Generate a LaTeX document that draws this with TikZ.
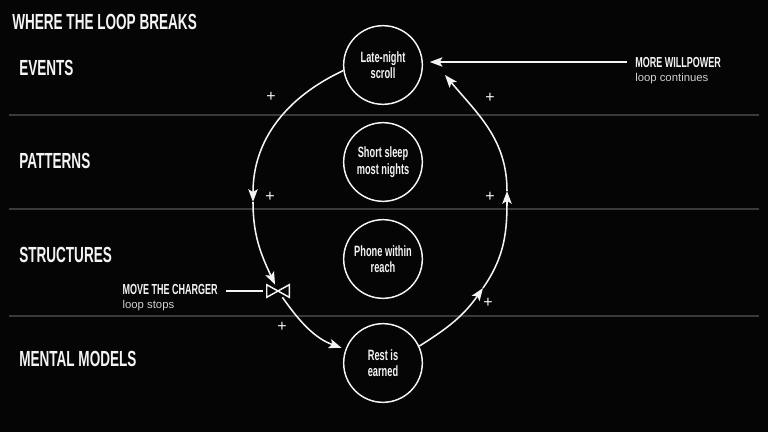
\documentclass[tikz,border=0pt]{standalone}
\usepackage{fontspec}
\setmainfont{Liberation Sans}
\newfontfamily\headfont[FakeStretch=0.62]{Liberation Sans}
\usetikzlibrary{positioning, arrows.meta}

\definecolor{bg}{HTML}{050505}
\definecolor{ink}{HTML}{F4F4F4}
\definecolor{rule}{HTML}{3A3A3A}
\definecolor{faint}{HTML}{CFCFCF}

\begin{document}
\begin{tikzpicture}[
    x=0.75pt, y=-0.75pt,
    head/.style={
      text=ink, inner sep=0, anchor=west,
      font=\headfont\bfseries\fontsize{16.4}{18}\selectfont
    },
    tag/.style={
      text=ink, inner sep=0,
      font=\headfont\bfseries\fontsize{10.9}{12}\selectfont
    },
    sub/.style={
      text=faint, inner sep=0,
      font=\fontsize{8.5}{10}\selectfont
    },
    stock/.style={
      circle, draw=ink, line width=1.1pt, minimum size=59pt,
      inner sep=0, align=center, text=ink,
      font=\headfont\bfseries\fontsize{11.2}{12.5}\selectfont
    },
    link/.style={
      draw=ink, line width=1.15pt,
      -{Stealth[length=9.5pt,width=7pt,inset=2pt]}
    },
    plus/.style={text=ink, inner sep=0, font=\fontsize{12}{12}\selectfont},
    divider/.style={draw=rule, line width=1.1pt}
  ]
  \fill[bg] (0,0) rectangle (768,432);
  \useasboundingbox (0,0) rectangle (768,432);

  % row dividers
  \foreach \yy in {115,209,316}
    \draw[divider] (9,\yy) -- (759,\yy);

  \node[head] (title) at (12,22) {WHERE THE LOOP BREAKS};
  \node[head] (events) at (19,68) {EVENTS};
  \node[head] (patterns) at (19,161) {PATTERNS};
  \node[head] (structures) at (19,255) {STRUCTURES};
  \node[head] (models) at (19,359) {MENTAL MODELS};

  % stocks
  \node[stock] (scroll) at (383,65) {Late-night\\scroll};
  \node[stock] (sleep) at (383,162) {Short sleep\\most nights};
  \node[stock] (phone) at (383,259) {Phone within\\reach};
  \node[stock] (rest) at (383,363) {Rest is\\earned};

  % valve
  \node[minimum width=16.5pt, minimum height=9pt, inner sep=0] (valve) at (278,291) {};
  \draw[ink, line width=1.1pt, line join=miter]
    (valve.north west) -- (valve.south east) -- (valve.north east) -- (valve.south west) -- cycle;

  % loop
  \coordinate (lmid) at (253,202);
  \coordinate (rlow) at (483,288);
  \coordinate (rmid) at (507,191);
  \coordinate (rtop) at (445,75);

  \draw[link] (scroll.188) to[out=205, in=90] (lmid);
  \draw[link] (lmid) to[out=270, in=115] (valve);
  \draw[link, shorten >=3pt] (valve) to[out=-55, in=160] (rest);
  \draw[link] (rest.25) to[out=32, in=235] (rlow);
  \draw[link] (rlow) to[out=55, in=270] (rmid);
  \draw[link] (rmid) to[out=90, in=-50] (rtop);

  \foreach \px/\py [count=\i] in {271/97, 270/197, 282/327, 490/98, 490/197, 488/303}
    \node[plus] (plus\i) at (\px,\py) {+};

  % interventions
  \node[tag, anchor=east] (charger) at (218,289) {MOVE THE CHARGER};
  \node[sub, below=4pt of charger.south west, anchor=north west] (stops) {loop stops};
  \draw[ink, line width=1.1pt, shorten <=6pt, shorten >=3pt] (valve.west -| charger.east) -- (valve.west);

  \node[tag, anchor=west] (willpower) at (635,62) {MORE WILLPOWER};
  \node[sub, below=4pt of willpower.south west, anchor=north west] (continues) {loop continues};
  \draw[link, shorten <=6pt, shorten >=5pt] (willpower.west) -- (willpower.west -| scroll.east);
\end{tikzpicture}
\end{document}
